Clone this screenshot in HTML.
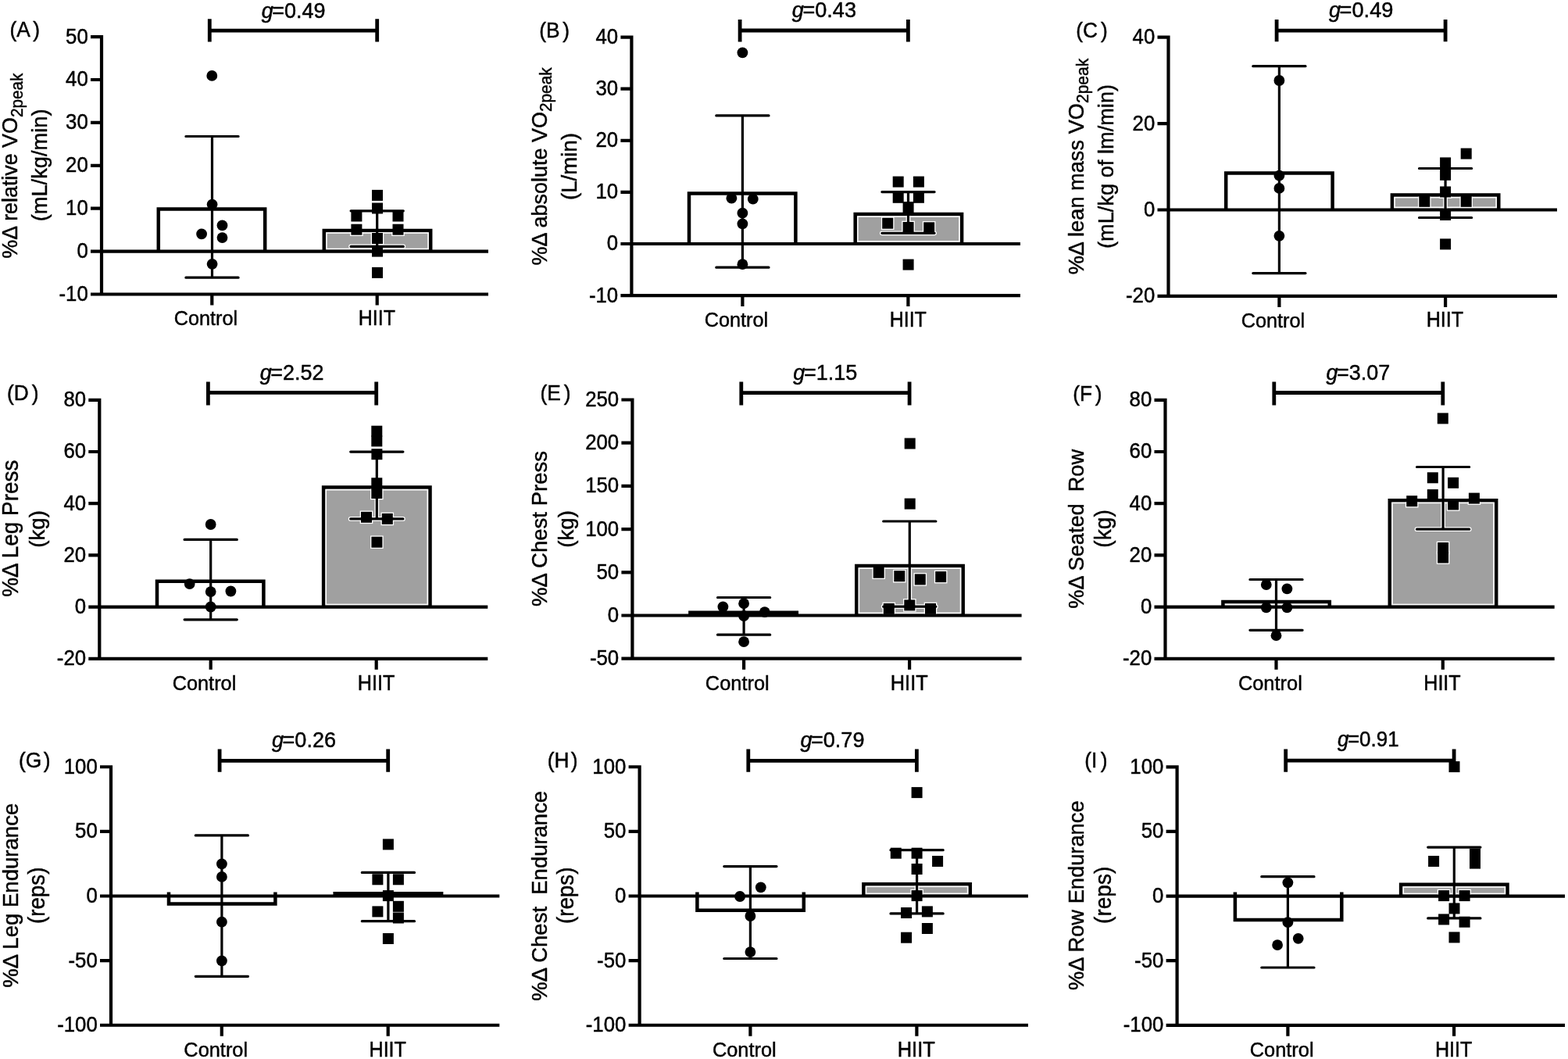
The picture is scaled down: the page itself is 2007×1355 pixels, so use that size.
<!DOCTYPE html>
<html><head><meta charset="utf-8"><title>Figure</title>
<style>
html,body{margin:0;padding:0;background:#fff;}
svg{display:block;}
text{font-family:'Liberation Sans', Arial, sans-serif;font-size:26px;fill:#000;stroke:#000;stroke-width:0.45px;}
.gl{font-size:26.5px}.pl{font-size:26.3px}.tl{font-size:25.8px}.cl{font-size:25.3px}.yl{font-size:26.85px}
.sub{font-size:20.7px;}
</style></head>
<body>
<svg xmlns="http://www.w3.org/2000/svg" width="2007" height="1355" viewBox="0 0 2007 1355">
<rect width="2007" height="1355" fill="#fff"/>
<g id="pA">
<rect x="202.8" y="267.6" width="136.4" height="54" fill="#fff"/>
<path d="M202.8 321.6V267.6H339.2V321.6" fill="none" stroke="#000" stroke-width="4.5" stroke-linejoin="miter" stroke-linecap="butt"/>
<rect x="414.8" y="294.9" width="136.4" height="26.7" fill="#a0a0a0"/>
<path d="M414.8 321.6V294.9H551.2V321.6" fill="none" stroke="#000" stroke-width="4.5" stroke-linejoin="miter" stroke-linecap="butt"/>
<rect x="417.95" y="298.05" width="130.1" height="20.4" fill="none" stroke="#fff" stroke-width="1.6"/>
<path d="M130 45V376.5M116 376.5H625M116 321.6H625M116 266.7H130M116 211.8H130M116 156.9H130M116 102H130M116 47.1H130M271.3 376.5V390.5M482.7 376.5V390.5" stroke="#000" stroke-width="4.2" fill="none"/>
<clipPath id="clipA"><rect x="417.05" y="297.15" width="131.9" height="22.2"/></clipPath>
<g clip-path="url(#clipA)" fill="#fff" stroke="#fff"><path d="M271.5 174.5V355.2M237.9 174.5H305.1M237.9 355.2H305.1M482.7 269.8V315.4M449.1 269.8H516.3M449.1 315.4H516.3" stroke-width="5.800000000000001" fill="none" stroke-linecap="round"/><rect x="476" y="242.9" width="14.0" height="14.0" stroke-width="2.6"/><rect x="476" y="259.5" width="14.0" height="14.0" stroke-width="2.6"/><rect x="449.4" y="269.5" width="14.0" height="14.0" stroke-width="2.6"/><rect x="502.5" y="269.5" width="14.0" height="14.0" stroke-width="2.6"/><rect x="449.4" y="286.7" width="14.0" height="14.0" stroke-width="2.6"/><rect x="502.5" y="286.7" width="14.0" height="14.0" stroke-width="2.6"/><rect x="476" y="298" width="14.0" height="14.0" stroke-width="2.6"/><rect x="476" y="314.6" width="14.0" height="14.0" stroke-width="2.6"/><rect x="476" y="341.9" width="14.0" height="14.0" stroke-width="2.6"/><circle cx="271.3" cy="96.9" r="6.9" stroke-width="2.6"/><circle cx="271.6" cy="261.6" r="6.9" stroke-width="2.6"/><circle cx="284.5" cy="288.4" r="6.9" stroke-width="2.6"/><circle cx="258.1" cy="299.4" r="6.9" stroke-width="2.6"/><circle cx="284.5" cy="304.1" r="6.9" stroke-width="2.6"/><circle cx="271.6" cy="337.8" r="6.9" stroke-width="2.6"/></g>
<path d="M271.5 174.5V355.2M237.9 174.5H305.1M237.9 355.2H305.1M482.7 269.8V315.4M449.1 269.8H516.3M449.1 315.4H516.3" stroke="#000" stroke-width="3.2" fill="none" stroke-linecap="round"/>
<circle cx="271.3" cy="96.9" r="6.9"/>
<circle cx="271.6" cy="261.6" r="6.9"/>
<circle cx="284.5" cy="288.4" r="6.9"/>
<circle cx="258.1" cy="299.4" r="6.9"/>
<circle cx="284.5" cy="304.1" r="6.9"/>
<circle cx="271.6" cy="337.8" r="6.9"/>
<rect x="476" y="242.9" width="14.0" height="14.0"/>
<rect x="476" y="259.5" width="14.0" height="14.0"/>
<rect x="449.4" y="269.5" width="14.0" height="14.0"/>
<rect x="502.5" y="269.5" width="14.0" height="14.0"/>
<rect x="449.4" y="286.7" width="14.0" height="14.0"/>
<rect x="502.5" y="286.7" width="14.0" height="14.0"/>
<rect x="476" y="298" width="14.0" height="14.0"/>
<rect x="476" y="314.6" width="14.0" height="14.0"/>
<rect x="476" y="341.9" width="14.0" height="14.0"/>
<path d="M268.3 39.2H482.7M268.3 24.3V53.6M482.7 24.3V53.6" stroke="#000" stroke-width="4.8" fill="none"/>
<text id="A_g" transform="translate(375.7 22.53) scale(1 1.04)" text-anchor="middle" style="font-size:27.02px"><tspan font-style="italic">g</tspan><tspan dx="-1.5">=0.49</tspan></text>
<text id="A_pl" transform="translate(12.47 47.2) scale(1 1.04)" style="font-size:26.3px">(A<tspan dx="3.6">)</tspan></text>
<text class="tl" transform="translate(112.8 384.9) scale(1 1.053)" text-anchor="end">-10</text>
<text class="tl" transform="translate(112.8 330) scale(1 1.053)" text-anchor="end">0</text>
<text class="tl" transform="translate(112.8 275.1) scale(1 1.053)" text-anchor="end">10</text>
<text class="tl" transform="translate(112.8 220.2) scale(1 1.053)" text-anchor="end">20</text>
<text class="tl" transform="translate(112.8 165.3) scale(1 1.053)" text-anchor="end">30</text>
<text class="tl" transform="translate(112.8 110.4) scale(1 1.053)" text-anchor="end">40</text>
<text class="tl" transform="translate(112.8 55.5) scale(1 1.053)" text-anchor="end">50</text>
<text id="A_c0" transform="translate(263.48 415.6) scale(1 1)" text-anchor="middle" style="font-size:25.26px">Control</text>
<text id="A_c1" transform="translate(482.36 415.5) scale(1 1.09)" text-anchor="middle" style="font-size:24.99px">HIIT</text>
<text id="A_yl1" transform="translate(22.35 212.2) rotate(-90) scale(1 1.035)" text-anchor="middle" xml:space="preserve" style="font-size:26.85px">%Δ relative VO<tspan style="font-size:20.7px" dy="6">2peak</tspan></text>
<text id="A_yl2" transform="translate(60.4 211.4) rotate(-90) scale(1 1.035)" text-anchor="middle" xml:space="preserve" style="font-size:27.24px">(mL/kg/min)</text>
</g>
<g id="pB">
<rect x="882" y="247.5" width="136.4" height="64.5" fill="#fff"/>
<path d="M882 312V247.5H1018.4V312" fill="none" stroke="#000" stroke-width="4.5" stroke-linejoin="miter" stroke-linecap="butt"/>
<rect x="1094.7" y="274" width="136.4" height="38" fill="#a0a0a0"/>
<path d="M1094.7 312V274H1231.1V312" fill="none" stroke="#000" stroke-width="4.5" stroke-linejoin="miter" stroke-linecap="butt"/>
<rect x="1097.85" y="277.15" width="130.1" height="31.7" fill="none" stroke="#fff" stroke-width="1.6"/>
<path d="M808.4 45.5V378.1M794.4 378.1H1306M794.4 312H1306M794.4 245.9H808.4M794.4 179.8H808.4M794.4 113.7H808.4M794.4 47.6H808.4M950.4 378.1V392.1M1162.4 378.1V392.1" stroke="#000" stroke-width="4.2" fill="none"/>
<clipPath id="clipB"><rect x="1096.95" y="276.25" width="131.9" height="33.5"/></clipPath>
<g clip-path="url(#clipB)" fill="#fff" stroke="#fff"><path d="M950.4 147.9V342.2M916.8 147.9H984M916.8 342.2H984M1162.5 245.6V298.3M1128.9 245.6H1196.1M1128.9 298.3H1196.1" stroke-width="5.800000000000001" fill="none" stroke-linecap="round"/><rect x="1142.7" y="225.6" width="14.0" height="14.0" stroke-width="2.6"/><rect x="1168.9" y="225.6" width="14.0" height="14.0" stroke-width="2.6"/><rect x="1142.7" y="245.8" width="14.0" height="14.0" stroke-width="2.6"/><rect x="1168.9" y="245.8" width="14.0" height="14.0" stroke-width="2.6"/><rect x="1155.6" y="258.1" width="14.0" height="14.0" stroke-width="2.6"/><rect x="1129.2" y="278.7" width="14.0" height="14.0" stroke-width="2.6"/><rect x="1155.6" y="284" width="14.0" height="14.0" stroke-width="2.6"/><rect x="1182.2" y="284.3" width="14.0" height="14.0" stroke-width="2.6"/><rect x="1155.6" y="331.6" width="14.0" height="14.0" stroke-width="2.6"/><circle cx="950.4" cy="67.4" r="6.9" stroke-width="2.6"/><circle cx="936.4" cy="253.7" r="6.9" stroke-width="2.6"/><circle cx="963.8" cy="254.7" r="6.9" stroke-width="2.6"/><circle cx="950.4" cy="272.7" r="6.9" stroke-width="2.6"/><circle cx="950.4" cy="286.4" r="6.9" stroke-width="2.6"/><circle cx="950.4" cy="338.2" r="6.9" stroke-width="2.6"/></g>
<path d="M950.4 147.9V342.2M916.8 147.9H984M916.8 342.2H984M1162.5 245.6V298.3M1128.9 245.6H1196.1M1128.9 298.3H1196.1" stroke="#000" stroke-width="3.2" fill="none" stroke-linecap="round"/>
<circle cx="950.4" cy="67.4" r="6.9"/>
<circle cx="936.4" cy="253.7" r="6.9"/>
<circle cx="963.8" cy="254.7" r="6.9"/>
<circle cx="950.4" cy="272.7" r="6.9"/>
<circle cx="950.4" cy="286.4" r="6.9"/>
<circle cx="950.4" cy="338.2" r="6.9"/>
<rect x="1142.7" y="225.6" width="14.0" height="14.0"/>
<rect x="1168.9" y="225.6" width="14.0" height="14.0"/>
<rect x="1142.7" y="245.8" width="14.0" height="14.0"/>
<rect x="1168.9" y="245.8" width="14.0" height="14.0"/>
<rect x="1155.6" y="258.1" width="14.0" height="14.0"/>
<rect x="1129.2" y="278.7" width="14.0" height="14.0"/>
<rect x="1155.6" y="284" width="14.0" height="14.0"/>
<rect x="1182.2" y="284.3" width="14.0" height="14.0"/>
<rect x="1155.6" y="331.6" width="14.0" height="14.0"/>
<path d="M947.1 39H1162.4M947.1 25V53.4M1162.4 25V53.4" stroke="#000" stroke-width="4.8" fill="none"/>
<text id="B_g" transform="translate(1054.92 22.42) scale(1 1.04)" text-anchor="middle" style="font-size:27.1px"><tspan font-style="italic">g</tspan><tspan dx="-1.5">=0.43</tspan></text>
<text id="B_pl" transform="translate(690.28 47.8) scale(1 1.04)" style="font-size:26.3px">(B<tspan dx="3.78">)</tspan></text>
<text class="tl" transform="translate(791.2 386.5) scale(1 1.053)" text-anchor="end">-10</text>
<text class="tl" transform="translate(791.2 320.4) scale(1 1.053)" text-anchor="end">0</text>
<text class="tl" transform="translate(791.2 254.3) scale(1 1.053)" text-anchor="end">10</text>
<text class="tl" transform="translate(791.2 188.2) scale(1 1.053)" text-anchor="end">20</text>
<text class="tl" transform="translate(791.2 122.1) scale(1 1.053)" text-anchor="end">30</text>
<text class="tl" transform="translate(791.2 56) scale(1 1.053)" text-anchor="end">40</text>
<text id="B_c0" transform="translate(942.44 417.8) scale(1 1)" text-anchor="middle" style="font-size:25.28px">Control</text>
<text id="B_c1" transform="translate(1162.28 417.7) scale(1 1.09)" text-anchor="middle" style="font-size:25.02px">HIIT</text>
<text id="B_yl1" transform="translate(699.55 212.95) rotate(-90) scale(1 1.035)" text-anchor="middle" xml:space="preserve" style="font-size:26.99px">%Δ absolute VO<tspan style="font-size:20.81px" dy="6.03">2peak</tspan></text>
<text id="B_yl2" transform="translate(738.3 213) rotate(-90) scale(1 1.035)" text-anchor="middle" xml:space="preserve" style="font-size:27.59px">(L/min)</text>
</g>
<g id="pC">
<rect x="1569.2" y="221.5" width="136.4" height="47" fill="#fff"/>
<path d="M1569.2 268.5V221.5H1705.6V268.5" fill="none" stroke="#000" stroke-width="4.5" stroke-linejoin="miter" stroke-linecap="butt"/>
<rect x="1781.9" y="249.5" width="136.4" height="19" fill="#a0a0a0"/>
<path d="M1781.9 268.5V249.5H1918.3V268.5" fill="none" stroke="#000" stroke-width="4.5" stroke-linejoin="miter" stroke-linecap="butt"/>
<rect x="1785.05" y="252.65" width="130.1" height="12.7" fill="none" stroke="#fff" stroke-width="1.6"/>
<path d="M1495.5 45.6V378.9M1481.5 378.9H1993M1481.5 268.5H1993M1481.5 158.1H1495.5M1481.5 47.7H1495.5M1637.4 378.9V392.9M1850.1 378.9V392.9" stroke="#000" stroke-width="4.2" fill="none"/>
<clipPath id="clipC"><rect x="1784.15" y="251.75" width="131.9" height="14.5"/></clipPath>
<g clip-path="url(#clipC)" fill="#fff" stroke="#fff"><path d="M1637.4 84.7V349.6M1603.8 84.7H1671M1603.8 349.6H1671M1850.1 215.5V278.5M1816.5 215.5H1883.7M1816.5 278.5H1883.7" stroke-width="5.800000000000001" fill="none" stroke-linecap="round"/><rect x="1869.7" y="189.6" width="14.0" height="14.0" stroke-width="2.6"/><rect x="1843.1" y="201.4" width="14.0" height="14.0" stroke-width="2.6"/><rect x="1843.1" y="216.8" width="14.0" height="14.0" stroke-width="2.6"/><rect x="1843.1" y="238.5" width="14.0" height="14.0" stroke-width="2.6"/><rect x="1816.3" y="250.8" width="14.0" height="14.0" stroke-width="2.6"/><rect x="1869.7" y="250.8" width="14.0" height="14.0" stroke-width="2.6"/><rect x="1843.1" y="268" width="14.0" height="14.0" stroke-width="2.6"/><rect x="1843.1" y="305.4" width="14.0" height="14.0" stroke-width="2.6"/><circle cx="1637.4" cy="103" r="6.9" stroke-width="2.6"/><circle cx="1637.4" cy="224.7" r="6.9" stroke-width="2.6"/><circle cx="1637.4" cy="240.9" r="6.9" stroke-width="2.6"/><circle cx="1637.4" cy="301.8" r="6.9" stroke-width="2.6"/></g>
<path d="M1637.4 84.7V349.6M1603.8 84.7H1671M1603.8 349.6H1671M1850.1 215.5V278.5M1816.5 215.5H1883.7M1816.5 278.5H1883.7" stroke="#000" stroke-width="3.2" fill="none" stroke-linecap="round"/>
<circle cx="1637.4" cy="103" r="6.9"/>
<circle cx="1637.4" cy="224.7" r="6.9"/>
<circle cx="1637.4" cy="240.9" r="6.9"/>
<circle cx="1637.4" cy="301.8" r="6.9"/>
<rect x="1869.7" y="189.6" width="14.0" height="14.0"/>
<rect x="1843.1" y="201.4" width="14.0" height="14.0"/>
<rect x="1843.1" y="216.8" width="14.0" height="14.0"/>
<rect x="1843.1" y="238.5" width="14.0" height="14.0"/>
<rect x="1816.3" y="250.8" width="14.0" height="14.0"/>
<rect x="1869.7" y="250.8" width="14.0" height="14.0"/>
<rect x="1843.1" y="268" width="14.0" height="14.0"/>
<rect x="1843.1" y="305.4" width="14.0" height="14.0"/>
<path d="M1634.1 39.2H1850.1M1634.1 24.9V53.2M1850.1 24.9V53.2" stroke="#000" stroke-width="4.8" fill="none"/>
<text id="C_g" transform="translate(1742.16 22.4) scale(1 1.04)" text-anchor="middle" style="font-size:27.18px"><tspan font-style="italic">g</tspan><tspan dx="-1.5">=0.49</tspan></text>
<text id="C_pl" transform="translate(1377.22 47.8) scale(1 1.04)" style="font-size:26.3px">(C<tspan dx="4.13">)</tspan></text>
<text class="tl" transform="translate(1478.3 387.3) scale(1 1.053)" text-anchor="end">-20</text>
<text class="tl" transform="translate(1478.3 276.9) scale(1 1.053)" text-anchor="end">0</text>
<text class="tl" transform="translate(1478.3 166.5) scale(1 1.053)" text-anchor="end">20</text>
<text class="tl" transform="translate(1478.3 56.1) scale(1 1.053)" text-anchor="end">40</text>
<text id="C_c0" transform="translate(1629.46 418.9) scale(1 1)" text-anchor="middle" style="font-size:25.31px">Control</text>
<text id="C_c1" transform="translate(1849.4 418.4) scale(1 1.09)" text-anchor="middle" style="font-size:25.17px">HIIT</text>
<text id="C_yl1" transform="translate(1387.05 213.1) rotate(-90) scale(1 1.035)" text-anchor="middle" xml:space="preserve" style="font-size:27.22px">%Δ lean mass VO<tspan style="font-size:20.99px" dy="6.08">2peak</tspan></text>
<text id="C_yl2" transform="translate(1425.3 212.95) rotate(-90) scale(1 1.035)" text-anchor="middle" xml:space="preserve" style="font-size:27.21px">(mL/kg of lm/min)</text>
</g>
<g id="pD">
<rect x="201" y="743.8" width="136.4" height="32.8" fill="#fff"/>
<path d="M201 776.6V743.8H337.4V776.6" fill="none" stroke="#000" stroke-width="4.5" stroke-linejoin="miter" stroke-linecap="butt"/>
<rect x="414.1" y="623.5" width="136.4" height="153.1" fill="#a0a0a0"/>
<path d="M414.1 776.6V623.5H550.5V776.6" fill="none" stroke="#000" stroke-width="4.5" stroke-linejoin="miter" stroke-linecap="butt"/>
<rect x="417.25" y="626.65" width="130.1" height="146.8" fill="none" stroke="#fff" stroke-width="1.6"/>
<path d="M127.3 509.7V842.8M113.3 842.8H624.3M113.3 776.6H624.3M113.3 710.4H127.3M113.3 644.2H127.3M113.3 578H127.3M113.3 511.8H127.3M269.7 842.8V856.8M481.7 842.8V856.8" stroke="#000" stroke-width="4.2" fill="none"/>
<clipPath id="clipD"><rect x="416.35" y="625.75" width="131.9" height="148.6"/></clipPath>
<g clip-path="url(#clipD)" fill="#fff" stroke="#fff"><path d="M269.7 690.4V792.8M236.1 690.4H303.3M236.1 792.8H303.3M482.3 578.1V663.9M448.7 578.1H515.9M448.7 663.9H515.9" stroke-width="5.800000000000001" fill="none" stroke-linecap="round"/><rect x="475.3" y="544.7" width="14.0" height="14.0" stroke-width="2.6"/><rect x="475.3" y="557.4" width="14.0" height="14.0" stroke-width="2.6"/><rect x="475.4" y="574.2" width="14.0" height="14.0" stroke-width="2.6"/><rect x="475.3" y="611.3" width="14.0" height="14.0" stroke-width="2.6"/><rect x="475.3" y="624" width="14.0" height="14.0" stroke-width="2.6"/><rect x="462" y="654.8" width="14.0" height="14.0" stroke-width="2.6"/><rect x="488.8" y="656.9" width="14.0" height="14.0" stroke-width="2.6"/><rect x="475.4" y="686.7" width="14.0" height="14.0" stroke-width="2.6"/><circle cx="269.7" cy="671" r="6.9" stroke-width="2.6"/><circle cx="242.7" cy="747.1" r="6.9" stroke-width="2.6"/><circle cx="269.7" cy="757.1" r="6.9" stroke-width="2.6"/><circle cx="295.4" cy="756.5" r="6.9" stroke-width="2.6"/><circle cx="269.7" cy="776.5" r="6.9" stroke-width="2.6"/></g>
<path d="M269.7 690.4V792.8M236.1 690.4H303.3M236.1 792.8H303.3M482.3 578.1V663.9M448.7 578.1H515.9M448.7 663.9H515.9" stroke="#000" stroke-width="3.2" fill="none" stroke-linecap="round"/>
<circle cx="269.7" cy="671" r="6.9"/>
<circle cx="242.7" cy="747.1" r="6.9"/>
<circle cx="269.7" cy="757.1" r="6.9"/>
<circle cx="295.4" cy="756.5" r="6.9"/>
<circle cx="269.7" cy="776.5" r="6.9"/>
<rect x="475.3" y="544.7" width="14.0" height="14.0"/>
<rect x="475.3" y="557.4" width="14.0" height="14.0"/>
<rect x="475.4" y="574.2" width="14.0" height="14.0"/>
<rect x="475.3" y="611.3" width="14.0" height="14.0"/>
<rect x="475.3" y="624" width="14.0" height="14.0"/>
<rect x="462" y="654.8" width="14.0" height="14.0"/>
<rect x="488.8" y="656.9" width="14.0" height="14.0"/>
<rect x="475.4" y="686.7" width="14.0" height="14.0"/>
<path d="M266.4 502.4H481.7M266.4 488.4V518.4M481.7 488.4V518.4" stroke="#000" stroke-width="4.8" fill="none"/>
<text id="D_g" transform="translate(373.71 486.24) scale(1 1.04)" text-anchor="middle" style="font-size:26.96px"><tspan font-style="italic">g</tspan><tspan dx="-1.5">=2.52</tspan></text>
<text id="D_pl" transform="translate(8.88 511.8) scale(1 1.04)" style="font-size:26.3px">(D<tspan dx="4.24">)</tspan></text>
<text class="tl" transform="translate(110.1 851.2) scale(1 1.053)" text-anchor="end">-20</text>
<text class="tl" transform="translate(110.1 785) scale(1 1.053)" text-anchor="end">0</text>
<text class="tl" transform="translate(110.1 718.8) scale(1 1.053)" text-anchor="end">20</text>
<text class="tl" transform="translate(110.1 652.6) scale(1 1.053)" text-anchor="end">40</text>
<text class="tl" transform="translate(110.1 586.4) scale(1 1.053)" text-anchor="end">60</text>
<text class="tl" transform="translate(110.1 520.2) scale(1 1.053)" text-anchor="end">80</text>
<text id="D_c0" transform="translate(261.49 882.5) scale(1 1)" text-anchor="middle" style="font-size:25.3px">Control</text>
<text id="D_c1" transform="translate(481.68 882.5) scale(1 1.09)" text-anchor="middle" style="font-size:25.25px">HIIT</text>
<text id="D_yl1" transform="translate(23 676.2) rotate(-90) scale(1 1.035)" text-anchor="middle" xml:space="preserve" style="font-size:27.87px">%Δ Leg Press</text>
<text id="D_yl2" transform="translate(57.2 676.9) rotate(-90) scale(1 1.035)" text-anchor="middle" xml:space="preserve" style="font-size:27.59px">(kg)</text>
</g>
<g id="pE">
<rect x="883.4" y="783.8" width="136.4" height="3.7" fill="#fff"/>
<path d="M883.4 787.5V783.8H1019.8V787.5" fill="none" stroke="#000" stroke-width="4.5" stroke-linejoin="miter" stroke-linecap="butt"/>
<rect x="1096.3" y="724" width="136.4" height="63.5" fill="#a0a0a0"/>
<path d="M1096.3 787.5V724H1232.7V787.5" fill="none" stroke="#000" stroke-width="4.5" stroke-linejoin="miter" stroke-linecap="butt"/>
<rect x="1099.45" y="727.15" width="130.1" height="57.2" fill="none" stroke="#fff" stroke-width="1.6"/>
<path d="M809.4 509.4V842.7M795.4 842.7H1307.6M795.4 787.5H1307.6M795.4 732.3H809.4M795.4 677.1H809.4M795.4 621.9H809.4M795.4 566.7H809.4M795.4 511.5H809.4M952.1 842.7V856.7M1164.1 842.7V856.7" stroke="#000" stroke-width="4.2" fill="none"/>
<clipPath id="clipE"><rect x="1098.55" y="726.25" width="131.9" height="59"/></clipPath>
<g clip-path="url(#clipE)" fill="#fff" stroke="#fff"><path d="M952.1 764.5V812.2M918.5 764.5H985.7M918.5 812.2H985.7M1164.3 667V776.2M1130.7 667H1197.9M1130.7 776.2H1197.9" stroke-width="5.800000000000001" fill="none" stroke-linecap="round"/><rect x="1157.7" y="560.5" width="14.0" height="14.0" stroke-width="2.6"/><rect x="1157.7" y="637.6" width="14.0" height="14.0" stroke-width="2.6"/><rect x="1117.7" y="725.7" width="14.0" height="14.0" stroke-width="2.6"/><rect x="1144.3" y="730.2" width="14.0" height="14.0" stroke-width="2.6"/><rect x="1170.8" y="734.4" width="14.0" height="14.0" stroke-width="2.6"/><rect x="1197.2" y="731.1" width="14.0" height="14.0" stroke-width="2.6"/><rect x="1130.8" y="771.9" width="14.0" height="14.0" stroke-width="2.6"/><rect x="1157.3" y="767.4" width="14.0" height="14.0" stroke-width="2.6"/><rect x="1184" y="771.9" width="14.0" height="14.0" stroke-width="2.6"/><circle cx="925.4" cy="776.5" r="6.9" stroke-width="2.6"/><circle cx="952.1" cy="772.2" r="6.9" stroke-width="2.6"/><circle cx="978.8" cy="783.2" r="6.9" stroke-width="2.6"/><circle cx="952.1" cy="788.2" r="6.9" stroke-width="2.6"/><circle cx="952.1" cy="821.2" r="6.9" stroke-width="2.6"/></g>
<path d="M952.1 764.5V812.2M918.5 764.5H985.7M918.5 812.2H985.7M1164.3 667V776.2M1130.7 667H1197.9M1130.7 776.2H1197.9" stroke="#000" stroke-width="3.2" fill="none" stroke-linecap="round"/>
<circle cx="925.4" cy="776.5" r="6.9"/>
<circle cx="952.1" cy="772.2" r="6.9"/>
<circle cx="978.8" cy="783.2" r="6.9"/>
<circle cx="952.1" cy="788.2" r="6.9"/>
<circle cx="952.1" cy="821.2" r="6.9"/>
<rect x="1157.7" y="560.5" width="14.0" height="14.0"/>
<rect x="1157.7" y="637.6" width="14.0" height="14.0"/>
<rect x="1117.7" y="725.7" width="14.0" height="14.0"/>
<rect x="1144.3" y="730.2" width="14.0" height="14.0"/>
<rect x="1170.8" y="734.4" width="14.0" height="14.0"/>
<rect x="1197.2" y="731.1" width="14.0" height="14.0"/>
<rect x="1130.8" y="771.9" width="14.0" height="14.0"/>
<rect x="1157.3" y="767.4" width="14.0" height="14.0"/>
<rect x="1184" y="771.9" width="14.0" height="14.0"/>
<path d="M948.8 502.7H1164.1M948.8 488.4V518.4M1164.1 488.4V518.4" stroke="#000" stroke-width="4.8" fill="none"/>
<text id="E_g" transform="translate(1056.34 486.17) scale(1 1.04)" text-anchor="middle" style="font-size:27.05px"><tspan font-style="italic">g</tspan><tspan dx="-1.5">=1.15</tspan></text>
<text id="E_pl" transform="translate(691.52 511.8) scale(1 1.04)" style="font-size:26.3px">(E<tspan dx="3.99">)</tspan></text>
<text class="tl" transform="translate(792.2 851.1) scale(1 1.053)" text-anchor="end">-50</text>
<text class="tl" transform="translate(792.2 795.9) scale(1 1.053)" text-anchor="end">0</text>
<text class="tl" transform="translate(792.2 740.7) scale(1 1.053)" text-anchor="end">50</text>
<text class="tl" transform="translate(792.2 685.5) scale(1 1.053)" text-anchor="end">100</text>
<text class="tl" transform="translate(792.2 630.3) scale(1 1.053)" text-anchor="end">150</text>
<text class="tl" transform="translate(792.2 575.1) scale(1 1.053)" text-anchor="end">200</text>
<text class="tl" transform="translate(792.2 519.9) scale(1 1.053)" text-anchor="end">250</text>
<text id="E_c0" transform="translate(943.79 882.5) scale(1 1)" text-anchor="middle" style="font-size:25.42px">Control</text>
<text id="E_c1" transform="translate(1163.71 883) scale(1 1.09)" text-anchor="middle" style="font-size:25.38px">HIIT</text>
<text id="E_yl1" transform="translate(699.5 676.45) rotate(-90) scale(1 1.035)" text-anchor="middle" xml:space="preserve" style="font-size:27.54px">%Δ Chest Press</text>
<text id="E_yl2" transform="translate(734 676.9) rotate(-90) scale(1 1.035)" text-anchor="middle" xml:space="preserve" style="font-size:27.59px">(kg)</text>
</g>
<g id="pF">
<rect x="1565.4" y="770" width="136.4" height="6.6" fill="#fff"/>
<path d="M1565.4 776.6V770H1701.8V776.6" fill="none" stroke="#000" stroke-width="4.5" stroke-linejoin="miter" stroke-linecap="butt"/>
<rect x="1778.8" y="640.3" width="136.4" height="136.3" fill="#a0a0a0"/>
<path d="M1778.8 776.6V640.3H1915.2V776.6" fill="none" stroke="#000" stroke-width="4.5" stroke-linejoin="miter" stroke-linecap="butt"/>
<rect x="1781.95" y="643.45" width="130.1" height="130" fill="none" stroke="#fff" stroke-width="1.6"/>
<path d="M1491.5 509.7V842.8M1477.5 842.8H1989.7M1477.5 776.6H1989.7M1477.5 710.4H1491.5M1477.5 644.2H1491.5M1477.5 578H1491.5M1477.5 511.8H1491.5M1633.5 842.8V856.8M1846.8 842.8V856.8" stroke="#000" stroke-width="4.2" fill="none"/>
<clipPath id="clipF"><rect x="1781.05" y="642.55" width="131.9" height="131.8"/></clipPath>
<g clip-path="url(#clipF)" fill="#fff" stroke="#fff"><path d="M1633.5 741.5V806.3M1599.9 741.5H1667.1M1599.9 806.3H1667.1M1847.1 597.5V677.2M1813.5 597.5H1880.7M1813.5 677.2H1880.7" stroke-width="5.800000000000001" fill="none" stroke-linecap="round"/><rect x="1839.8" y="528.4" width="14.0" height="14.0" stroke-width="2.6"/><rect x="1826.8" y="604.3" width="14.0" height="14.0" stroke-width="2.6"/><rect x="1853.1" y="610.8" width="14.0" height="14.0" stroke-width="2.6"/><rect x="1826.8" y="626.1" width="14.0" height="14.0" stroke-width="2.6"/><rect x="1800.2" y="634.2" width="14.0" height="14.0" stroke-width="2.6"/><rect x="1879.9" y="630.6" width="14.0" height="14.0" stroke-width="2.6"/><rect x="1853.1" y="638.5" width="14.0" height="14.0" stroke-width="2.6"/><rect x="1840.1" y="694" width="14.0" height="14.0" stroke-width="2.6"/><rect x="1840.1" y="706.5" width="14.0" height="14.0" stroke-width="2.6"/><circle cx="1620.8" cy="748.1" r="6.9" stroke-width="2.6"/><circle cx="1647.4" cy="753.4" r="6.9" stroke-width="2.6"/><circle cx="1620.8" cy="777.3" r="6.9" stroke-width="2.6"/><circle cx="1647.4" cy="777.3" r="6.9" stroke-width="2.6"/><circle cx="1633.5" cy="813.2" r="6.9" stroke-width="2.6"/></g>
<path d="M1633.5 741.5V806.3M1599.9 741.5H1667.1M1599.9 806.3H1667.1M1847.1 597.5V677.2M1813.5 597.5H1880.7M1813.5 677.2H1880.7" stroke="#000" stroke-width="3.2" fill="none" stroke-linecap="round"/>
<circle cx="1620.8" cy="748.1" r="6.9"/>
<circle cx="1647.4" cy="753.4" r="6.9"/>
<circle cx="1620.8" cy="777.3" r="6.9"/>
<circle cx="1647.4" cy="777.3" r="6.9"/>
<circle cx="1633.5" cy="813.2" r="6.9"/>
<rect x="1839.8" y="528.4" width="14.0" height="14.0"/>
<rect x="1826.8" y="604.3" width="14.0" height="14.0"/>
<rect x="1853.1" y="610.8" width="14.0" height="14.0"/>
<rect x="1826.8" y="626.1" width="14.0" height="14.0"/>
<rect x="1800.2" y="634.2" width="14.0" height="14.0"/>
<rect x="1879.9" y="630.6" width="14.0" height="14.0"/>
<rect x="1853.1" y="638.5" width="14.0" height="14.0"/>
<rect x="1840.1" y="694" width="14.0" height="14.0"/>
<rect x="1840.1" y="706.5" width="14.0" height="14.0"/>
<path d="M1630.8 502.5H1846.8M1630.8 488.4V518.4M1846.8 488.4V518.4" stroke="#000" stroke-width="4.8" fill="none"/>
<text id="F_g" transform="translate(1738.38 486.05) scale(1 1.04)" text-anchor="middle" style="font-size:26.98px"><tspan font-style="italic">g</tspan><tspan dx="-1.5">=3.07</tspan></text>
<text id="F_pl" transform="translate(1373.34 512.6) scale(1 1.04)" style="font-size:26.3px">(F<tspan dx="3.67">)</tspan></text>
<text class="tl" transform="translate(1474.3 851.2) scale(1 1.053)" text-anchor="end">-20</text>
<text class="tl" transform="translate(1474.3 785) scale(1 1.053)" text-anchor="end">0</text>
<text class="tl" transform="translate(1474.3 718.8) scale(1 1.053)" text-anchor="end">20</text>
<text class="tl" transform="translate(1474.3 652.6) scale(1 1.053)" text-anchor="end">40</text>
<text class="tl" transform="translate(1474.3 586.4) scale(1 1.053)" text-anchor="end">60</text>
<text class="tl" transform="translate(1474.3 520.2) scale(1 1.053)" text-anchor="end">80</text>
<text id="F_c0" transform="translate(1625.85 882.5) scale(1 1)" text-anchor="middle" style="font-size:25.41px">Control</text>
<text id="F_c1" transform="translate(1845.97 883) scale(1 1.09)" text-anchor="middle" style="font-size:25.18px">HIIT</text>
<text id="F_yl1" transform="translate(1387.05 676.85) rotate(-90) scale(1 1.035)" text-anchor="middle" xml:space="preserve" style="font-size:27.18px">%Δ Seated  Row</text>
<text id="F_yl2" transform="translate(1421.7 676.45) rotate(-90) scale(1 1.035)" text-anchor="middle" xml:space="preserve" style="font-size:28.14px">(kg)</text>
</g>
<g id="pG">
<rect x="216" y="1146.5" width="136.4" height="10.1" fill="#fff"/>
<path d="M216 1141.5V1156.6H352.4V1141.5" fill="none" stroke="#000" stroke-width="4.5" stroke-linejoin="miter" stroke-linecap="butt"/>
<rect x="428.7" y="1143.3" width="136.4" height="3.2" fill="#a0a0a0"/>
<path d="M428.7 1146.5V1143.3H565.1V1146.5" fill="none" stroke="#000" stroke-width="4.5" stroke-linejoin="miter" stroke-linecap="butt"/>
<path d="M142 979.15V1311.75M128 1311.75H639.3M128 1229.12H142M128 1146.5H639.3M128 1063.88H142M128 981.25H142M283.8 1311.75V1325.75M496.7 1311.75V1325.75" stroke="#000" stroke-width="4.2" fill="none"/>
<clipPath id="clipG"></clipPath>
<g clip-path="url(#clipG)" fill="#fff" stroke="#fff"><path d="M283.9 1068.9V1249.3M250.3 1068.9H317.5M250.3 1249.3H317.5M496.9 1116.4V1178.7M463.3 1116.4H530.5M463.3 1178.7H530.5" stroke-width="5.800000000000001" fill="none" stroke-linecap="round"/><rect x="489.9" y="1073.4" width="14.0" height="14.0" stroke-width="2.6"/><rect x="476.4" y="1118.3" width="14.0" height="14.0" stroke-width="2.6"/><rect x="502.9" y="1118.3" width="14.0" height="14.0" stroke-width="2.6"/><rect x="489.9" y="1139.1" width="14.0" height="14.0" stroke-width="2.6"/><rect x="502.9" y="1152.8" width="14.0" height="14.0" stroke-width="2.6"/><rect x="476.4" y="1159.4" width="14.0" height="14.0" stroke-width="2.6"/><rect x="502.9" y="1167.5" width="14.0" height="14.0" stroke-width="2.6"/><rect x="489.9" y="1194" width="14.0" height="14.0" stroke-width="2.6"/><circle cx="283.9" cy="1105.4" r="6.9" stroke-width="2.6"/><circle cx="283.9" cy="1121.9" r="6.9" stroke-width="2.6"/><circle cx="283.9" cy="1179.7" r="6.9" stroke-width="2.6"/><circle cx="283.9" cy="1229.4" r="6.9" stroke-width="2.6"/></g>
<path d="M283.9 1068.9V1249.3M250.3 1068.9H317.5M250.3 1249.3H317.5M496.9 1116.4V1178.7M463.3 1116.4H530.5M463.3 1178.7H530.5" stroke="#000" stroke-width="3.2" fill="none" stroke-linecap="round"/>
<circle cx="283.9" cy="1105.4" r="6.9"/>
<circle cx="283.9" cy="1121.9" r="6.9"/>
<circle cx="283.9" cy="1179.7" r="6.9"/>
<circle cx="283.9" cy="1229.4" r="6.9"/>
<rect x="489.9" y="1073.4" width="14.0" height="14.0"/>
<rect x="476.4" y="1118.3" width="14.0" height="14.0"/>
<rect x="502.9" y="1118.3" width="14.0" height="14.0"/>
<rect x="489.9" y="1139.1" width="14.0" height="14.0"/>
<rect x="502.9" y="1152.8" width="14.0" height="14.0"/>
<rect x="476.4" y="1159.4" width="14.0" height="14.0"/>
<rect x="502.9" y="1167.5" width="14.0" height="14.0"/>
<rect x="489.9" y="1194" width="14.0" height="14.0"/>
<path d="M281.1 973.4H496.7M281.1 958.4V987.8M496.7 958.4V987.8" stroke="#000" stroke-width="4.8" fill="none"/>
<text id="G_g" transform="translate(388.97 956.04) scale(1 1.04)" text-anchor="middle" style="font-size:27.08px"><tspan font-style="italic">g</tspan><tspan dx="-1.5">=0.26</tspan></text>
<text id="G_pl" transform="translate(23.99 981.8) scale(1 1.04)" style="font-size:26.3px">(G<tspan dx="2.61">)</tspan></text>
<text class="tl" transform="translate(124.8 1320.15) scale(1 1.053)" text-anchor="end">-100</text>
<text class="tl" transform="translate(124.8 1237.53) scale(1 1.053)" text-anchor="end">-50</text>
<text class="tl" transform="translate(124.8 1154.9) scale(1 1.053)" text-anchor="end">0</text>
<text class="tl" transform="translate(124.8 1072.28) scale(1 1.053)" text-anchor="end">50</text>
<text class="tl" transform="translate(124.8 989.65) scale(1 1.053)" text-anchor="end">100</text>
<text id="G_c0" transform="translate(276.21 1351.8) scale(1 1)" text-anchor="middle" style="font-size:25.37px">Control</text>
<text id="G_c1" transform="translate(496.22 1352.3) scale(1 1.09)" text-anchor="middle" style="font-size:25.15px">HIIT</text>
<text id="G_yl1" transform="translate(22.5 1145.75) rotate(-90) scale(1 1.035)" text-anchor="middle" xml:space="preserve" style="font-size:27.57px">%Δ Leg Endurance</text>
<text id="G_yl2" transform="translate(57.2 1145.85) rotate(-90) scale(1 1.035)" text-anchor="middle" xml:space="preserve" style="font-size:27.76px">(reps)</text>
</g>
<g id="pH">
<rect x="892.4" y="1146.5" width="136.4" height="18.2" fill="#fff"/>
<path d="M892.4 1141.5V1164.7H1028.8V1141.5" fill="none" stroke="#000" stroke-width="4.5" stroke-linejoin="miter" stroke-linecap="butt"/>
<rect x="1105.4" y="1131.2" width="136.4" height="15.3" fill="#a0a0a0"/>
<path d="M1105.4 1146.5V1131.2H1241.8V1146.5" fill="none" stroke="#000" stroke-width="4.5" stroke-linejoin="miter" stroke-linecap="butt"/>
<rect x="1108.55" y="1134.35" width="130.1" height="9" fill="none" stroke="#fff" stroke-width="1.6"/>
<path d="M818.6 979.15V1311.75M804.6 1311.75H1316M804.6 1229.12H818.6M804.6 1146.5H1316M804.6 1063.88H818.6M804.6 981.25H818.6M960.4 1311.75V1325.75M1173.4 1311.75V1325.75" stroke="#000" stroke-width="4.2" fill="none"/>
<clipPath id="clipH"><rect x="1107.65" y="1133.45" width="131.9" height="10.8"/></clipPath>
<g clip-path="url(#clipH)" fill="#fff" stroke="#fff"><path d="M960.4 1108.6V1226.5M926.8 1108.6H994M926.8 1226.5H994M1173.6 1087.7V1168.9M1140 1087.7H1207.2M1140 1168.9H1207.2" stroke-width="5.800000000000001" fill="none" stroke-linecap="round"/><rect x="1166.6" y="1007.1" width="14.0" height="14.0" stroke-width="2.6"/><rect x="1139.8" y="1084.7" width="14.0" height="14.0" stroke-width="2.6"/><rect x="1166.6" y="1084.7" width="14.0" height="14.0" stroke-width="2.6"/><rect x="1193.1" y="1095" width="14.0" height="14.0" stroke-width="2.6"/><rect x="1166.6" y="1105" width="14.0" height="14.0" stroke-width="2.6"/><rect x="1166.6" y="1139.1" width="14.0" height="14.0" stroke-width="2.6"/><rect x="1153.1" y="1161" width="14.0" height="14.0" stroke-width="2.6"/><rect x="1179.9" y="1159.4" width="14.0" height="14.0" stroke-width="2.6"/><rect x="1179.9" y="1181" width="14.0" height="14.0" stroke-width="2.6"/><rect x="1153.1" y="1192.7" width="14.0" height="14.0" stroke-width="2.6"/><circle cx="973.8" cy="1135.3" r="6.9" stroke-width="2.6"/><circle cx="947.1" cy="1147" r="6.9" stroke-width="2.6"/><circle cx="960.4" cy="1172" r="6.9" stroke-width="2.6"/><circle cx="960.4" cy="1218.1" r="6.9" stroke-width="2.6"/></g>
<path d="M960.4 1108.6V1226.5M926.8 1108.6H994M926.8 1226.5H994M1173.6 1087.7V1168.9M1140 1087.7H1207.2M1140 1168.9H1207.2" stroke="#000" stroke-width="3.2" fill="none" stroke-linecap="round"/>
<circle cx="973.8" cy="1135.3" r="6.9"/>
<circle cx="947.1" cy="1147" r="6.9"/>
<circle cx="960.4" cy="1172" r="6.9"/>
<circle cx="960.4" cy="1218.1" r="6.9"/>
<rect x="1166.6" y="1007.1" width="14.0" height="14.0"/>
<rect x="1139.8" y="1084.7" width="14.0" height="14.0"/>
<rect x="1166.6" y="1084.7" width="14.0" height="14.0"/>
<rect x="1193.1" y="1095" width="14.0" height="14.0"/>
<rect x="1166.6" y="1105" width="14.0" height="14.0"/>
<rect x="1166.6" y="1139.1" width="14.0" height="14.0"/>
<rect x="1153.1" y="1161" width="14.0" height="14.0"/>
<rect x="1179.9" y="1159.4" width="14.0" height="14.0"/>
<rect x="1179.9" y="1181" width="14.0" height="14.0"/>
<rect x="1153.1" y="1192.7" width="14.0" height="14.0"/>
<path d="M957.8 973.4H1173.4M957.8 958.4V987.8M1173.4 958.4V987.8" stroke="#000" stroke-width="4.8" fill="none"/>
<text id="H_g" transform="translate(1065.43 955.65) scale(1 1.04)" text-anchor="middle" style="font-size:27.08px"><tspan font-style="italic">g</tspan><tspan dx="-1.5">=0.79</tspan></text>
<text id="H_pl" transform="translate(700.64 981.8) scale(1 1.04)" style="font-size:26.3px">(H<tspan dx="2.41">)</tspan></text>
<text class="tl" transform="translate(801.4 1320.15) scale(1 1.053)" text-anchor="end">-100</text>
<text class="tl" transform="translate(801.4 1237.53) scale(1 1.053)" text-anchor="end">-50</text>
<text class="tl" transform="translate(801.4 1154.9) scale(1 1.053)" text-anchor="end">0</text>
<text class="tl" transform="translate(801.4 1072.28) scale(1 1.053)" text-anchor="end">50</text>
<text class="tl" transform="translate(801.4 989.65) scale(1 1.053)" text-anchor="end">100</text>
<text id="H_c0" transform="translate(952.83 1352.3) scale(1 1)" text-anchor="middle" style="font-size:25.39px">Control</text>
<text id="H_c1" transform="translate(1172.71 1351.8) scale(1 1.09)" text-anchor="middle" style="font-size:25.48px">HIIT</text>
<text id="H_yl1" transform="translate(699.5 1146.25) rotate(-90) scale(1 1.035)" text-anchor="middle" xml:space="preserve" style="font-size:27.48px">%Δ Chest  Endurance</text>
<text id="H_yl2" transform="translate(734.3 1145.85) rotate(-90) scale(1 1.035)" text-anchor="middle" xml:space="preserve" style="font-size:27.76px">(reps)</text>
</g>
<g id="pI">
<rect x="1580.9" y="1146.6" width="136.4" height="30.3" fill="#fff"/>
<path d="M1580.9 1141.6V1176.9H1717.3V1141.6" fill="none" stroke="#000" stroke-width="4.5" stroke-linejoin="miter" stroke-linecap="butt"/>
<rect x="1793.1" y="1131.8" width="136.4" height="14.8" fill="#a0a0a0"/>
<path d="M1793.1 1146.6V1131.8H1929.5V1146.6" fill="none" stroke="#000" stroke-width="4.5" stroke-linejoin="miter" stroke-linecap="butt"/>
<rect x="1796.25" y="1134.95" width="130.1" height="8.5" fill="none" stroke="#fff" stroke-width="1.6"/>
<path d="M1506.6 979.25V1311.85M1492.6 1311.85H2003M1492.6 1229.22H1506.6M1492.6 1146.6H2003M1492.6 1063.97H1506.6M1492.6 981.35H1506.6M1648.4 1311.85V1325.85M1861.1 1311.85V1325.85" stroke="#000" stroke-width="4.2" fill="none"/>
<clipPath id="clipI"><rect x="1795.35" y="1134.05" width="131.9" height="10.3"/></clipPath>
<g clip-path="url(#clipI)" fill="#fff" stroke="#fff"><path d="M1648.4 1121.7V1238M1614.8 1121.7H1682M1614.8 1238H1682M1861.3 1084.1V1174.9M1827.7 1084.1H1894.9M1827.7 1174.9H1894.9" stroke-width="5.800000000000001" fill="none" stroke-linecap="round"/><rect x="1854.5" y="974.1" width="14.0" height="14.0" stroke-width="2.6"/><rect x="1828.1" y="1095" width="14.0" height="14.0" stroke-width="2.6"/><rect x="1881" y="1085.7" width="14.0" height="14.0" stroke-width="2.6"/><rect x="1881" y="1097.6" width="14.0" height="14.0" stroke-width="2.6"/><rect x="1841.1" y="1139.1" width="14.0" height="14.0" stroke-width="2.6"/><rect x="1867.6" y="1139.1" width="14.0" height="14.0" stroke-width="2.6"/><rect x="1854.5" y="1155.4" width="14.0" height="14.0" stroke-width="2.6"/><rect x="1841.1" y="1169.4" width="14.0" height="14.0" stroke-width="2.6"/><rect x="1867.6" y="1172.7" width="14.0" height="14.0" stroke-width="2.6"/><rect x="1854.5" y="1192.4" width="14.0" height="14.0" stroke-width="2.6"/><circle cx="1648.4" cy="1129.3" r="6.9" stroke-width="2.6"/><circle cx="1648.4" cy="1180.2" r="6.9" stroke-width="2.6"/><circle cx="1661.7" cy="1200.8" r="6.9" stroke-width="2.6"/><circle cx="1635.1" cy="1209.1" r="6.9" stroke-width="2.6"/></g>
<path d="M1648.4 1121.7V1238M1614.8 1121.7H1682M1614.8 1238H1682M1861.3 1084.1V1174.9M1827.7 1084.1H1894.9M1827.7 1174.9H1894.9" stroke="#000" stroke-width="3.2" fill="none" stroke-linecap="round"/>
<circle cx="1648.4" cy="1129.3" r="6.9"/>
<circle cx="1648.4" cy="1180.2" r="6.9"/>
<circle cx="1661.7" cy="1200.8" r="6.9"/>
<circle cx="1635.1" cy="1209.1" r="6.9"/>
<rect x="1854.5" y="974.1" width="14.0" height="14.0"/>
<rect x="1828.1" y="1095" width="14.0" height="14.0"/>
<rect x="1881" y="1085.7" width="14.0" height="14.0"/>
<rect x="1881" y="1097.6" width="14.0" height="14.0"/>
<rect x="1841.1" y="1139.1" width="14.0" height="14.0"/>
<rect x="1867.6" y="1139.1" width="14.0" height="14.0"/>
<rect x="1854.5" y="1155.4" width="14.0" height="14.0"/>
<rect x="1841.1" y="1169.4" width="14.0" height="14.0"/>
<rect x="1867.6" y="1172.7" width="14.0" height="14.0"/>
<rect x="1854.5" y="1192.4" width="14.0" height="14.0"/>
<path d="M1645.7 973.1H1861.1M1645.7 958.4V987.8M1861.1 958.4V987.8" stroke="#000" stroke-width="4.8" fill="none"/>
<text id="I_g" transform="translate(1751.3 955.33) scale(1 1.04)" text-anchor="middle" style="font-size:25.93px"><tspan font-style="italic">g</tspan><tspan dx="-1.5">=0.91</tspan></text>
<text id="I_pl" transform="translate(1388.34 981.8) scale(1 1.04)" style="font-size:26.3px">(I<tspan dx="4.25">)</tspan></text>
<text class="tl" transform="translate(1489.4 1320.25) scale(1 1.053)" text-anchor="end">-100</text>
<text class="tl" transform="translate(1489.4 1237.62) scale(1 1.053)" text-anchor="end">-50</text>
<text class="tl" transform="translate(1489.4 1155) scale(1 1.053)" text-anchor="end">0</text>
<text class="tl" transform="translate(1489.4 1072.38) scale(1 1.053)" text-anchor="end">50</text>
<text class="tl" transform="translate(1489.4 989.75) scale(1 1.053)" text-anchor="end">100</text>
<text id="I_c0" transform="translate(1640.65 1352.3) scale(1 1)" text-anchor="middle" style="font-size:25.38px">Control</text>
<text id="I_c1" transform="translate(1860.69 1351.8) scale(1 1.09)" text-anchor="middle" style="font-size:25.12px">HIIT</text>
<text id="I_yl1" transform="translate(1387.05 1145.75) rotate(-90) scale(1 1.035)" text-anchor="middle" xml:space="preserve" style="font-size:27.29px">%Δ Row Endurance</text>
<text id="I_yl2" transform="translate(1421.85 1145.3) rotate(-90) scale(1 1.035)" text-anchor="middle" xml:space="preserve" style="font-size:28.04px">(reps)</text>
</g>
</svg>
</body></html>
